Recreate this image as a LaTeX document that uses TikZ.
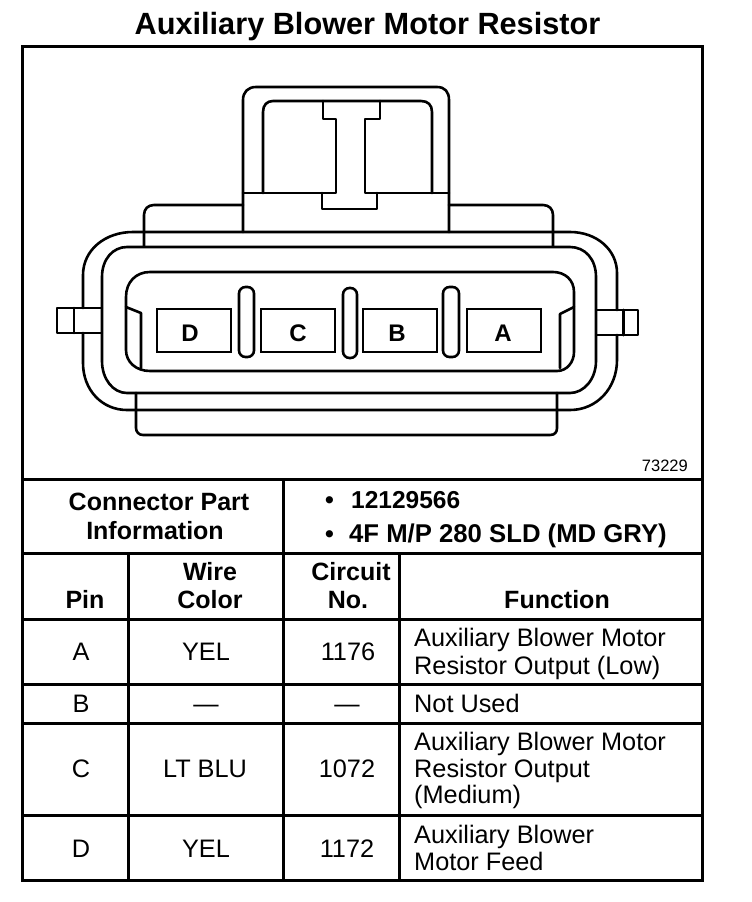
\documentclass[tikz,border=0pt]{standalone}
\usepackage{fontspec}
\setmainfont{Liberation Sans}
\tikzset{
  part/.style={line width=2.6pt,line join=round,line cap=round,draw=black},
  thinpart/.style={line width=2.2pt,line join=round,line cap=round,draw=black},
  rule/.style={line width=3pt,draw=black,line cap=butt},
  pinbox/.style={line width=2.6pt,draw=black,fill=white},
  slot/.style={line width=2.6pt,draw=black,rounded corners=6.5pt},
  pinletter/.style={font=\fontsize{24}{26}\bfseries\selectfont,anchor=base,inner sep=0pt},
  titletxt/.style={font=\fontsize{30.7}{33}\bfseries\selectfont,anchor=base,inner sep=0pt},
  headtxt/.style={font=\fontsize{25}{27}\bfseries\selectfont,anchor=base,inner sep=0pt},
  headleft/.style={headtxt,anchor=base west},
  numtxt/.style={font=\fontsize{24.5}{27}\bfseries\selectfont,anchor=base west,inner sep=0pt},
  typetxt/.style={font=\fontsize{25.7}{27}\bfseries\selectfont,anchor=base west,inner sep=0pt},
  celltxt/.style={font=\fontsize{25.3}{27}\selectfont,anchor=base,inner sep=0pt},
  cellleft/.style={celltxt,anchor=base west},
  smalltxt/.style={font=\fontsize{16.5}{18}\selectfont,anchor=base east,inner sep=0pt}
}
\begin{document}
\begin{tikzpicture}[x=1pt,y=-1pt]
\useasboundingbox (0,0) rectangle (752,902);
\fill[white] (0,0) rectangle (752,902);

% frame and table rules
\draw[rule] (22,46) rectangle (702,880);
\draw[rule] (22,479.5) -- (702,479.5);
\draw[rule] (22,553) -- (702,553);
\draw[rule] (22,619) -- (702,619);
\draw[rule] (22,684.5) -- (702,684.5);
\draw[rule] (22,723) -- (702,723);
\draw[rule] (22,815) -- (702,815);
\draw[rule] (283.5,479.5) -- (283.5,880);
\draw[rule] (128.5,553) -- (128.5,880);
\draw[rule] (399.5,553) -- (399.5,880);

% handle
\draw[part] (243,232) -- (243,100) .. controls (243,92) and (248,87) .. (256,87)
  -- (437,87) .. controls (445,87) and (449,92) .. (449,100) -- (449,232);
\draw[part] (263,193) -- (263,112) .. controls (263,105) and (267,101) .. (273,101)
  -- (421,101) .. controls (428,101) and (432,105) .. (432,112) -- (432,193);
\draw[part] (243,193) -- (336,193) -- (336,119) -- (323,119) -- (323,101);
\draw[part] (449,193) -- (365,193) -- (365,119) -- (380,119) -- (380,101);
\draw[part] (322,193) -- (322,209) -- (377,209) -- (377,193);

% shoulders
\draw[part] (144,246) -- (144,215) .. controls (144,209) and (148,205) .. (154,205) -- (243,205);
\draw[part] (449,205) -- (543,205) .. controls (549,205) and (553,209) .. (553,215) -- (553,246);

% outer body
\draw[part] (83,308) -- (83,275) .. controls (83,250) and (105,232) .. (133,232) -- (570,232)
  .. controls (597,232) and (617,250) .. (617,273) -- (617,310);
\draw[part] (83,333) -- (83,363) .. controls (83,390) and (102,410) .. (127,410) -- (570,410)
  .. controls (597,410) and (617,388) .. (617,360) -- (617,335);
% second outline
\draw[part] (127,247) -- (570,247) .. controls (585,247) and (596,259) .. (596,277) -- (596,361)
  .. controls (596,379) and (584,393) .. (570,393) -- (127,393)
  .. controls (113,393) and (102,379) .. (102,361) -- (102,277)
  .. controls (102,259) and (113,247) .. (127,247) -- cycle;
% inner cavity
\draw[part] (150,272) -- (553,272) .. controls (565,272) and (574,280) .. (574,292) -- (574,352)
  .. controls (574,362) and (567,371) .. (557,371) -- (150,371)
  .. controls (136,371) and (126,362) .. (126,350) -- (126,297)
  .. controls (126,282) and (136,272) .. (150,272) -- cycle;
% keys
\draw[part] (126,307) -- (141,313) -- (141,368);
\draw[part] (574,307) -- (560,314) -- (560,368);

% side tabs
\draw[thinpart] (102,308) -- (57,308) -- (57,333) -- (102,333);
\draw[part] (74,308) -- (74,333);
\draw[thinpart] (596,310) -- (638,310) -- (638,335) -- (596,335);
\draw[part,line width=3pt] (623,310) -- (623,335);

% lower skirt
\draw[part] (136,393) -- (136,428) .. controls (136,432) and (139,435) .. (143,435)
  -- (550,435) .. controls (555,435) and (557,432) .. (557,428) -- (557,393);

% slots
\draw[slot] (239,287) rectangle (254,357);
\draw[slot] (343,288) rectangle (357,358);
\draw[slot] (443,287) rectangle (459,357);

% pin boxes
\draw[pinbox] (157,309) rectangle (231,352);
\draw[pinbox] (261,309) rectangle (335,352);
\draw[pinbox] (363,309) rectangle (437,352);
\draw[pinbox] (467,309) rectangle (541,352);
\node[pinletter] (pD) at (190,341) {D};
\node[pinletter] (pC) at (298,341) {C};
\node[pinletter] (pB) at (397,341) {B};
\node[pinletter] (pA) at (503,341) {A};

% texts
\node[titletxt] (title) at (367.5,34.5) {Auxiliary Blower Motor Resistor};
\node[smalltxt] (fig) at (688,471) {73229};

\node[headtxt] (cp1) at (159,510) {Connector Part};
\node[headtxt] (cp2) at (155,539) {Information};
\node[headleft] (b1) at (325,508) {•};
\node[numtxt] (n1) at (351,508) {12129566};
\node[headleft] (b2) at (325,542) {•};
\node[typetxt] (n2) at (349,542) {4F M/P 280 SLD (MD GRY)};

\node[headtxt] (hpin) at (85,608) {Pin};
\node[headtxt] (hw1) at (210,580) {Wire};
\node[headtxt] (hw2) at (210,608) {Color};
\node[headtxt] (hc1) at (351,580) {Circuit};
\node[headtxt] (hc2) at (348,608) {No.};
\node[headtxt] (hf) at (557,608) {Function};

\node[celltxt] (ra1) at (81,660) {A};
\node[celltxt] (ra2) at (206,660) {YEL};
\node[celltxt] (ra3) at (348,660) {1176};
\node[cellleft] (ra4) at (414,646) {Auxiliary Blower Motor};
\node[cellleft] (ra5) at (414,674) {Resistor Output (Low)};

\node[celltxt] (rb1) at (81,712) {B};
\node[celltxt] (rb2) at (206,712) {—};
\node[celltxt] (rb3) at (347,712) {—};
\node[cellleft] (rb4) at (414,712) {Not Used};

\node[celltxt] (rc1) at (81,777) {C};
\node[celltxt] (rc2) at (205,777) {LT BLU};
\node[celltxt] (rc3) at (347,777) {1072};
\node[cellleft] (rc4) at (414,750) {Auxiliary Blower Motor};
\node[cellleft] (rc5) at (414,777) {Resistor Output};
\node[cellleft] (rc6) at (414,803) {(Medium)};

\node[celltxt] (rd1) at (81,857) {D};
\node[celltxt] (rd2) at (206,857) {YEL};
\node[celltxt] (rd3) at (347,857) {1172};
\node[cellleft] (rd4) at (414,843) {Auxiliary Blower};
\node[cellleft] (rd5) at (414,870) {Motor Feed};
\end{tikzpicture}
\end{document}
